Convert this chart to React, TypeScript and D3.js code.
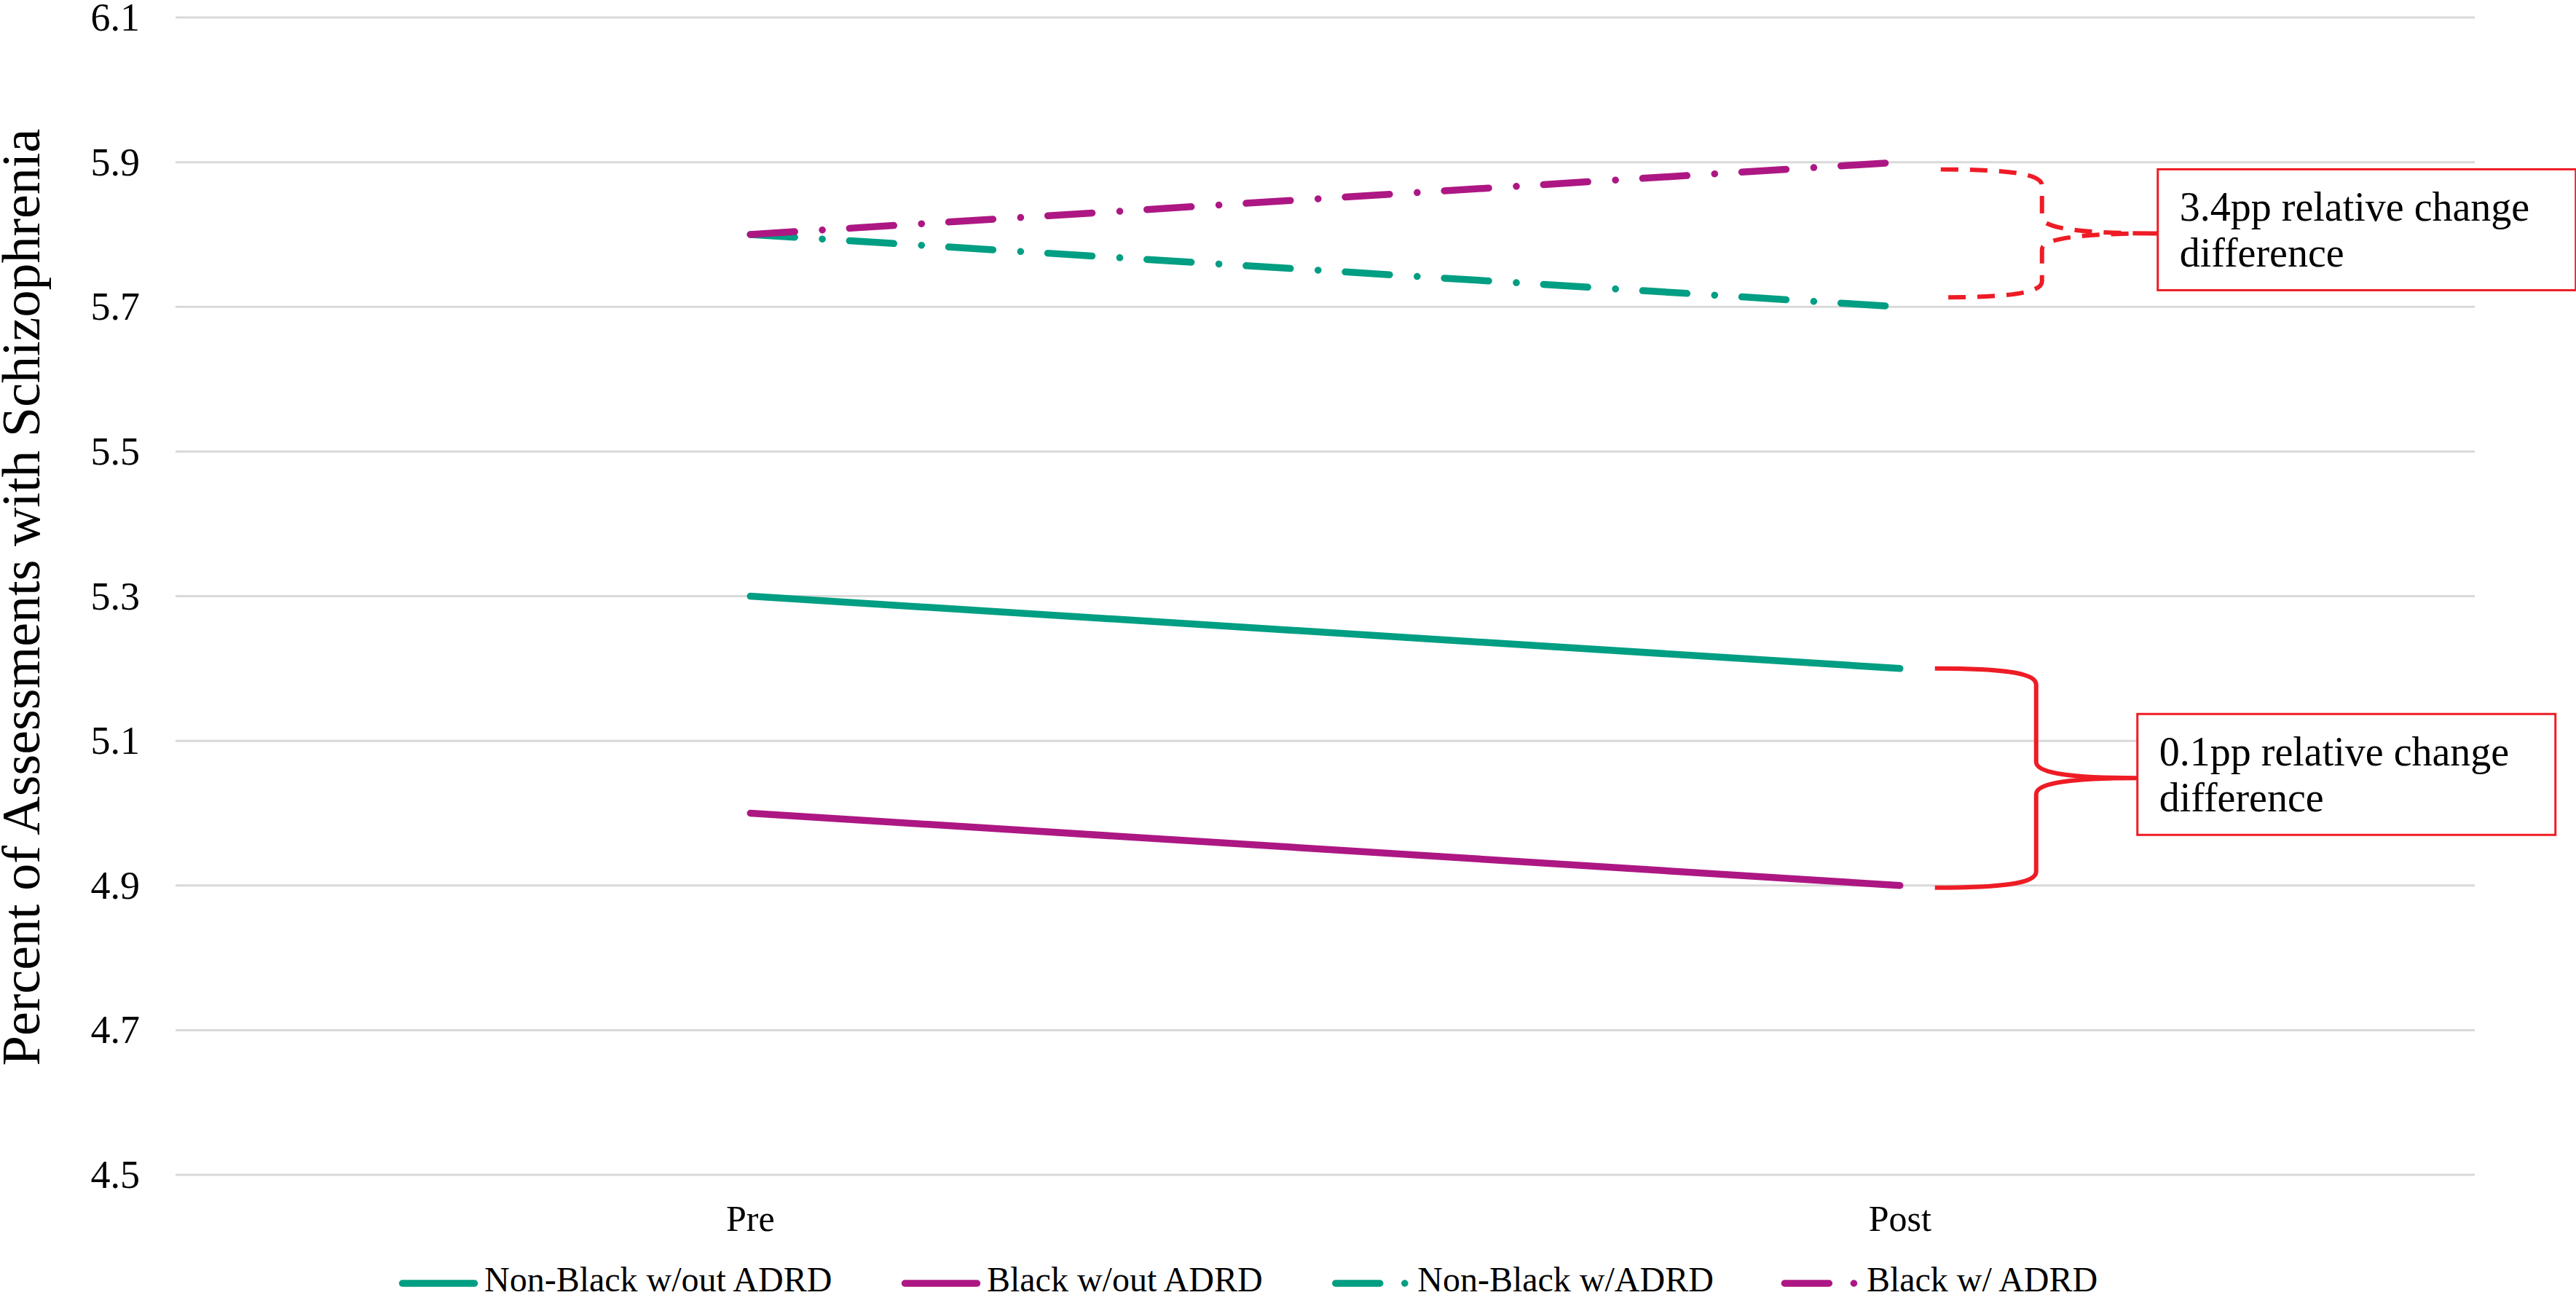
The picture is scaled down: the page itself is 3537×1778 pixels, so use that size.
import React, { useEffect, useMemo } from "react";
import * as d3 from "d3";

// ---------- data ----------
const categories = ["Pre", "Post"];
const nonBlackNoAdrd = [5.3, 5.2];
const blackNoAdrd = [5.0, 4.9];
const nonBlackAdrd = [5.8, 5.7];
const blackAdrd = [5.8, 5.9];
const yTicks = [4.5, 4.7, 4.9, 5.1, 5.3, 5.5, 5.7, 5.9, 6.1];
const seriesNames = ["Non-Black w/out ADRD", "Black w/out ADRD", "Non-Black w/ADRD", "Black w/ ADRD"];
const yTitle = "Percent of Assessments with Schizophrenia";
const upperLabel = ["3.4pp relative change", "difference"];
const lowerLabel = ["0.1pp relative change", "difference"];

// ---------- style ----------
const W = 3537;
const H = 1778;
const FONT = "Liberation Serif";
const TEAL = "#009E83";
const MAGENTA = "#AD1783";
const RED = "#EE1C25";
const GRID = "#D9D9D9";
const DASHDOT = "61 38 0.1 37.3";
const LINE_W = 9.5;

const series = [
  { name: seriesNames[0], values: nonBlackNoAdrd, color: TEAL, dash: null as string | null },
  { name: seriesNames[1], values: blackNoAdrd, color: MAGENTA, dash: null as string | null },
  { name: seriesNames[2], values: nonBlackAdrd, color: TEAL, dash: DASHDOT },
  { name: seriesNames[3], values: blackAdrd, color: MAGENTA, dash: DASHDOT },
];

function bracePath(x0: number, sx: number, tx: number, top: number, bottom: number, r: number) {
  const mid = (top + bottom) / 2;
  const a = x0 + (sx - x0) * 0.7;
  const b = sx + (tx - sx) * 0.35;
  return [
    `M${x0},${top}`,
    `C${a},${top} ${sx},${top + r * 0.3} ${sx},${top + r}`,
    `L${sx},${mid - r}`,
    `C${sx},${mid - r * 0.3} ${b},${mid} ${tx},${mid}`,
    `M${tx},${mid}`,
    `C${b},${mid} ${sx},${mid + r * 0.3} ${sx},${mid + r}`,
    `L${sx},${bottom - r}`,
    `C${sx},${bottom - r * 0.3} ${a},${bottom} ${x0},${bottom}`,
  ].join(" ");
}

export default function App() {
  useEffect(() => {
    document.body.style.margin = "0";
    document.body.style.overflow = "hidden";
  }, []);

  const left = 241;
  const right = 3398;
  const x = d3.scalePoint<string>().domain(categories).range([left, right]).padding(0.5);
  const y = d3.scaleLinear().domain([4.5, 6.1]).range([1613, 24]);

  const line = d3
    .line<number>()
    .x((_, i) => x(categories[i]) as number)
    .y((d) => y(d));

  const legendWidths = useMemo(() => {
    const ctx = document.createElement("canvas").getContext("2d");
    return seriesNames.map((n) => {
      if (!ctx) return n.length * 23;
      ctx.font = `48px "Liberation Serif"`;
      return ctx.measureText(n).width;
    });
  }, []);

  const legendItems: { x: number; s: (typeof series)[number] }[] = [];
  let lx = 548;
  series.forEach((s, i) => {
    legendItems.push({ x: lx, s });
    lx += 117 + legendWidths[i] + 93;
  });

  const postX = x("Post") as number;
  const annotations = [
    {
      top: y(blackAdrd[1]) + 10,
      bottom: y(nonBlackAdrd[1]) - 13,
      x0: postX + 56,
      sx: postX + 195,
      boxX: postX + 354,
      dashed: true,
      lines: upperLabel,
    },
    {
      top: y(nonBlackNoAdrd[1]),
      bottom: y(blackNoAdrd[1]) + 3,
      x0: postX + 48,
      sx: postX + 187,
      boxX: postX + 326,
      dashed: false,
      lines: lowerLabel,
    },
  ];

  return (
    <svg
      width={W}
      height={H}
      viewBox={`0 0 ${W} ${H}`}
      style={{ position: "absolute", left: 0, top: 0, display: "block", background: "#fff" }}
    >
      <rect x={0} y={0} width={W} height={H} fill="#fff" />
      {yTicks.map((t) => (
        <line key={t} x1={left} x2={right} y1={y(t)} y2={y(t)} stroke={GRID} strokeWidth={3} />
      ))}
      {yTicks.map((t) => (
        <text
          key={"l" + t}
          x={192}
          y={y(t) + 18}
          textAnchor="end"
          fontFamily={FONT}
          fontSize={54}
          fill="#000"
        >
          {t.toFixed(1)}
        </text>
      ))}
      <text
        transform={`translate(54, 820) rotate(-90)`}
        textAnchor="middle"
        fontFamily={FONT}
        fontSize={74}
        fill="#000"
      >
        {yTitle}
      </text>
      {categories.map((c) => (
        <text
          key={c}
          x={x(c) as number}
          y={1690}
          textAnchor="middle"
          fontFamily={FONT}
          fontSize={50}
          fill="#000"
        >
          {c}
        </text>
      ))}
      {series.map((s) => (
        <path
          key={s.name}
          d={line(s.values) || ""}
          fill="none"
          stroke={s.color}
          strokeWidth={LINE_W}
          strokeLinecap="round"
          strokeDasharray={s.dash || undefined}
        />
      ))}
      {annotations.map((a, i) => {
        const mid = (a.top + a.bottom) / 2;
        const boxTop = mid - 88;
        return (
          <g key={"a" + i}>
            <path
              d={bracePath(a.x0, a.sx, a.boxX, a.top, a.bottom, 22)}
              fill="none"
              stroke={RED}
              strokeWidth={6}
              strokeDasharray={a.dashed ? "24 16" : undefined}
            />
            <rect x={a.boxX} y={boxTop} width={574} height={166} fill="#fff" stroke={RED} strokeWidth={3} />
            {a.lines.map((t, j) => (
              <text
                key={j}
                x={a.boxX + 30}
                y={boxTop + 71 + j * 63}
                fontFamily={FONT}
                fontSize={56}
                fill="#000"
              >
                {t}
              </text>
            ))}
          </g>
        );
      })}
      {legendItems.map(({ x: ix, s }) => (
        <g key={"lg" + s.name}>
          {s.dash ? (
            <line
              x1={ix + 4.5}
              x2={ix + 101}
              y1={1762}
              y2={1762}
              stroke={s.color}
              strokeWidth={LINE_W}
              strokeLinecap="round"
              strokeDasharray="61 34 0.1 40"
            />
          ) : (
            <line
              x1={ix + 4.5}
              x2={ix + 103.5}
              y1={1762}
              y2={1762}
              stroke={s.color}
              strokeWidth={LINE_W}
              strokeLinecap="round"
            />
          )}
          <text x={ix + 117} y={1773} fontFamily={FONT} fontSize={48} fill="#000">
            {s.name}
          </text>
        </g>
      ))}
    </svg>
  );
}
